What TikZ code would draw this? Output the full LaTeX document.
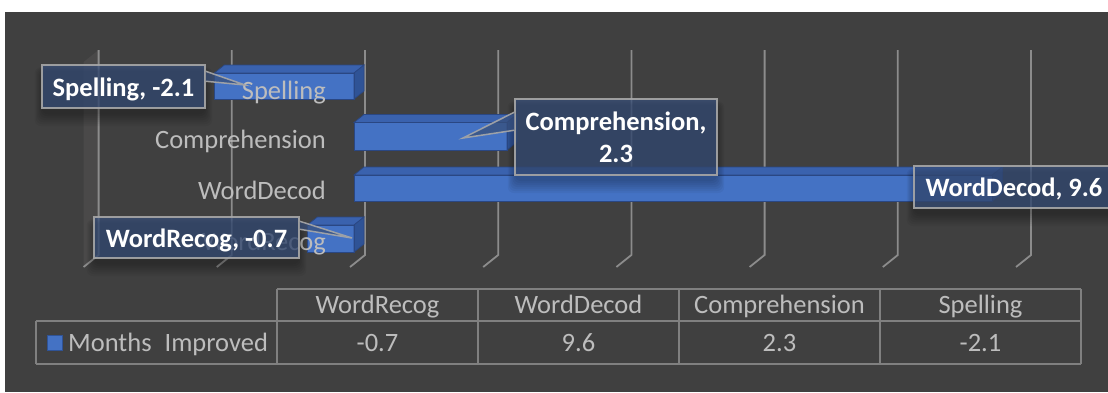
\documentclass[tikz,border=0pt]{standalone}
\usepackage{fontspec}
\setmainfont{Carlito}
\usetikzlibrary{calc}

\definecolor{bggray}{HTML}{404040}
\definecolor{wallgray}{HTML}{4A4949}
\definecolor{gridgray}{HTML}{8C8C8C}
\definecolor{txtgray}{HTML}{BDBDBD}
\definecolor{tblgray}{HTML}{808080}
\definecolor{barfront}{HTML}{4472C4}
\definecolor{bartop}{HTML}{3A62AE}
\definecolor{barside}{HTML}{2F5396}
\definecolor{baredge}{HTML}{2A4783}
\definecolor{lblfill}{HTML}{374E79}
\definecolor{lblborder}{HTML}{A8A8A8}

% one 3-D bar: left x, right x, top y, bottom y of the front face
\newcommand\drawbar[4]{%
  \fill[barfront] (#1,#3) rectangle (#2,#4);
  \filldraw[bartop,draw=baredge,line width=0.7pt] (#1,#3) -- (#2,#3) -- (#2+10,#3-8) -- (#1+10,#3-8) -- cycle;
  \filldraw[barside,draw=baredge,line width=0.7pt] (#2,#3) -- (#2+10,#3-8) -- (#2+10,#4-8) -- (#2,#4) -- cycle;
  \draw[baredge,line width=0.8pt] (#1,#3) rectangle (#2,#4);
}
% soft shadow below a data label box
\newcommand\lblshadow[4]{%
  \foreach \g in {0,2,...,12}{
    \fill[black,opacity=0.045,rounded corners=6pt] (#1-\g*0.6,#2+6-\g*0.3) rectangle (#3+\g*0.6,#4+6+\g);
  }%
}
% one vertical gridline with its floor segment
\newcommand\gridline[1]{%
  \draw[grid] (#1,50) -- (#1,255) -- (#1-15,267);
}

\begin{document}
\begin{tikzpicture}[x=1pt,y=-1pt,
  grid/.style={draw=gridgray,line width=1.8pt},
  cat/.style={font=\fontsize{26.5}{32}\selectfont,text=txtgray,inner sep=0pt,anchor=base east},
  lblbase/.style={draw=lblborder,line width=1.5pt,fill=lblfill,fill opacity=0.72,
    text opacity=1,draw opacity=0.9,text=white,font=\fontsize{26.5}{32}\selectfont\bfseries,inner sep=0pt},
  lblone/.style={lblbase,text height=24pt,text depth=5pt},
  ptr/.style={draw=lblborder,draw opacity=0.9,line width=1.5pt,fill=lblfill,fill opacity=0.72},
  tbl/.style={draw=tblgray,line width=2pt},
  tbltxt/.style={font=\fontsize{26.5}{32}\selectfont,text=txtgray,inner sep=0pt,anchor=base}]

\useasboundingbox (0,0) rectangle (1108,392);
\fill[white] (0,0) rectangle (1108,392);
\fill[bggray] (5,12) rectangle (1108,392);

% side wall and gridlines
\fill[wallgray] (98.6,50) -- (98.6,255) -- (83.6,267) -- (83.6,62) -- cycle;
\foreach \v in {-4,-2,...,10}{
  \pgfmathsetmacro\gx{365+66.6*\v}
  \gridline{\gx}
}

% bars (0 at x = 354, 66.5 per month)
\drawbar{214.4}{354}{73}{99}
\drawbar{354}{507}{122.5}{150}
\drawbar{354}{992.4}{175}{201}
\drawbar{307.4}{354}{225}{252}

% category axis labels
\node[cat] (cSpell) at (326,99)  {Spelling};
\node[cat] (cComp)  at (326,148) {Comprehension};
\node[cat] (cDecod) at (326,199) {WordDecod};
\node[cat] (cRecog) at (326,250) {WordRecog};

% data labels
\lblshadow{42}{65}{205}{108}
\lblshadow{515}{99}{717}{175}
\lblshadow{914}{166}{1114}{208}
\lblshadow{94}{217}{299}{258}

\coordinate (tSpell) at (245,85);
\coordinate (tComp)  at (463,138);
\coordinate (tRecog) at (352,238);

\node[lblone,minimum width=163pt,minimum height=43pt] (lSpell) at (123.5,86.5) {Spelling, -2.1};
\node[lblbase,align=center,minimum width=202pt,minimum height=76pt] (lComp) at (616,137) {Comprehension,\\2.3};
\node[lblone,minimum width=200pt,minimum height=42pt] (lDecod) at (1014,187) {WordDecod, 9.6};
\node[lblone,minimum width=205pt,minimum height=41pt] (lRecog) at (196.5,237.5) {WordRecog, -0.7};

\path[ptr] ($(lSpell.north east)+(0,7)$) -- (tSpell) -- ($(lSpell.north east)+(0,17)$);
\path[ptr] ($(lComp.north west)+(0,14)$) -- (tComp) -- ($(lComp.north west)+(0,32)$);
\path[ptr] ($(lRecog.north east)+(0,5)$) -- (tRecog) -- ($(lRecog.north east)+(0,13)$);

% data table
\draw[tbl] (277,289) -- (1081,289);
\draw[tbl] (36,321) -- (1081,321);
\draw[tbl] (36,364) -- (1081,364);
\draw[tbl] (36,321) -- (36,364);
\foreach \cx in {277,478,679,880,1081}{
  \draw[tbl] (\cx,289) -- (\cx,364);
}
\node[tbltxt] (hRecog) at (377.5,313) {WordRecog};
\node[tbltxt] (hDecod) at (578.5,313) {WordDecod};
\node[tbltxt] (hComp)  at (779.5,313) {Comprehension};
\node[tbltxt] (hSpell) at (980.5,313) {Spelling};
\node[tbltxt] (vRecog) at (377.5,351) {-0.7};
\node[tbltxt] (vDecod) at (578.5,351) {9.6};
\node[tbltxt] (vComp)  at (779.5,351) {2.3};
\node[tbltxt] (vSpell) at (980.5,351) {-2.1};

\filldraw[fill=barfront,draw=barside,line width=1pt] (47,335) rectangle (62,350);
\node[tbltxt,anchor=base west] (series) at (68,351) {Months\hspace{13pt}Improved};

\end{tikzpicture}
\end{document}
